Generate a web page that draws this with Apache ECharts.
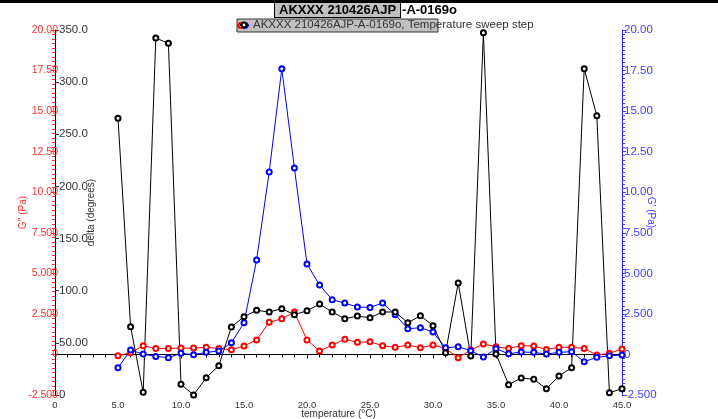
<!DOCTYPE html>
<html>
<head>
<meta charset="utf-8">
<script src="https://cdn.jsdelivr.net/npm/echarts@6/dist/echarts.min.js"></script>
<style>
  html, body { margin: 0; padding: 0; background: #fff; }
  #chart { width: 718px; height: 419px; }
</style>
</head>
<body>
<div id="chart"></div>
<script>
// temperature steps (°C)
const temperature = [
    5, 6, 7, 8, 9, 10, 11, 12, 13, 14, 15, 16, 17, 18, 19, 20, 21, 22, 23, 24, 25,
    26, 27, 28, 29, 30, 31, 32, 33, 34, 35, 36, 37, 38, 39, 40, 41, 42, 43, 44, 45
];
// G'' (Pa), left axis
const lossModulus = [
    -0.08, 0.10, 0.54, 0.37, 0.37, 0.39, 0.39, 0.44, 0.37, 0.29, 0.52, 0.89, 1.98, 2.20, 2.61, 0.89, 0.21,
    0.58, 0.93, 0.75, 0.78, 0.54, 0.44, 0.58, 0.41, 0.58, 0.37, -0.20, 0.27, 0.64, 0.48, 0.37, 0.54,
    0.52, 0.31, 0.44, 0.44, 0.37, -0.04, 0.07, 0.33
];
// G' (Pa), right axis
const storageModulus = [
    -0.82, 0.27, 0.02, -0.12, -0.20, 0.07, -0.02, 0.13, 0.21, 0.72, 1.95, 5.82, 11.24, 17.61, 11.49, 5.57, 4.28,
    3.37, 3.17, 2.92, 2.90, 3.17, 2.45, 1.58, 1.65, 1.38, 0.41, 0.48, 0.23, -0.16, 0.35, 0.04, 0.15,
    0.13, 0.02, 0.13, 0.17, -0.45, -0.18, -0.08, -0.04
];
// delta (degrees), inner left axis
const delta = [
    265.3, 65.5, 2.6, 342.3, 337.2, 10.2, 0.0, 16.6, 28.1, 65.2, 75.1, 81.2, 79.6, 82.8, 77.0, 80.8, 87.2,
    79.6, 73.2, 75.7, 74.1, 79.6, 79.6, 69.3, 76.0, 66.5, 40.6, 107.4, 37.4, 347.4, 39.3, 9.9, 16.3,
    15.0, 6.0, 18.2, 26.2, 312.9, 267.8, 2.2, 6.0
];

const sampleName = 'AKXXX 210426AJP-A-0169o, Temperature sweep step';
const font = 'Liberation Sans';

function pairs(ys) {
    return temperature.map(function (t, i) { return [t, ys[i]]; });
}
function fourDigits(v) {
    return v === 0 ? '0' : Number(v).toPrecision(4);
}

function lineSeries(name, color, yIndex, values) {
    return {
        name: name,
        type: 'line',
        yAxisIndex: yIndex,
        data: pairs(values),
        symbol: 'emptyCircle',
        symbolSize: 5,
        color: color,
        lineStyle: { color: color, width: 1 },
        itemStyle: { color: color, borderColor: color, borderWidth: 0.9 },
        animation: false
    };
}

function legendFor(name, left, top, withText) {
    return {
        left: left,
        top: top,
        data: [name],
        itemWidth: 8,
        itemHeight: 6,
        padding: 0,
        selectedMode: false,
        z: 10,
        formatter: function () { return withText ? sampleName : ''; },
        textStyle: { fontFamily: font, fontSize: 11.5, color: '#333' }
    };
}

const option = {
    backgroundColor: '#fff',
    textStyle: { fontFamily: font },
    graphic: [
        { type: 'rect', shape: { x: 0, y: 0, width: 718, height: 3 }, style: { fill: '#000' } },
        { type: 'rect', z: -1, shape: { x: 237, y: 19, width: 201, height: 13 },
          style: { fill: '#c0c0c0', stroke: '#333', lineWidth: 1 } }
    ],
    title: {
        left: 275,
        top: 3,
        padding: 0,
        text: '{a|AKXXX 210426AJP}{b|-A-0169o}',
        textStyle: {
            rich: {
                a: { fontFamily: font, fontSize: 13, fontWeight: 'bold', color: '#000',
                     backgroundColor: '#c0c0c0', borderColor: '#000', borderWidth: 1, padding: [1, 4, 0, 4] },
                b: { fontFamily: font, fontSize: 13, fontWeight: 'bold', color: '#000',
                     padding: [1, 3, 0, 2] }
            }
        }
    },
    legend: [
        legendFor("G''", 236, 22, false),
        legendFor("G'", 240, 22, false),
        legendFor('delta', 239, 19, true)
    ],
    grid: { left: 55, right: 96, top: 30, bottom: 24, containLabel: false, outerBoundsMode: 'none' },
    xAxis: {
        type: 'value',
        min: 0,
        max: 45,
        interval: 5,
        name: 'temperature (°C)',
        nameLocation: 'middle',
        nameGap: 14,
        nameMoveOverlap: false,
        nameTextStyle: { fontFamily: font, fontSize: 10, color: '#333' },
        axisLine: { show: true, lineStyle: { color: '#000', width: 1 } },
        axisTick: { show: true, length: 4, lineStyle: { color: '#000' } },
        minorTick: { show: true, splitNumber: 5, length: 3, lineStyle: { color: '#000' } },
        splitLine: { show: false },
        axisLabel: {
            fontFamily: font, fontSize: 9.5, color: '#333', margin: 5,
            showMinLabel: true, showMaxLabel: true,
            formatter: function (v) { return v === 0 ? '0' : v.toFixed(1); }
        }
    },
    yAxis: [
        {
            type: 'value',
            position: 'left',
            min: -2.5,
            max: 20,
            interval: 2.5,
            name: "G'' (Pa)",
            nameLocation: 'middle',
            nameRotate: 90,
            nameGap: 27,
            nameMoveOverlap: false,
            nameTextStyle: { fontFamily: font, fontSize: 10, color: '#ff3030' },
            axisLine: { show: true, lineStyle: { color: '#000', width: 1 } },
            axisTick: { show: true, length: 4, lineStyle: { color: '#ff3030' } },
            minorTick: { show: true, splitNumber: 9, length: 3, lineStyle: { color: '#ff3030' } },
            splitLine: { show: false },
            axisLabel: {
                fontFamily: font, fontSize: 10.5, color: '#ff3030', margin: -3,
                showMinLabel: true, showMaxLabel: true,
                formatter: fourDigits
            }
        },
        {
            type: 'value',
            position: 'left',
            offset: 0,
            min: 0,
            max: 350,
            interval: 50,
            name: 'delta (degrees)',
            nameLocation: 'middle',
            nameRotate: 90,
            nameGap: -41,
            nameMoveOverlap: false,
            nameTextStyle: { fontFamily: font, fontSize: 10, color: '#333' },
            axisLine: { show: false },
            axisTick: { show: true, inside: true, length: 4, lineStyle: { color: '#333' } },
            splitLine: { show: false },
            axisLabel: {
                inside: true, fontFamily: font, fontSize: 11.5, color: '#333', margin: 4,
                showMinLabel: true, showMaxLabel: true,
                formatter: fourDigits
            }
        },
        {
            type: 'value',
            position: 'right',
            min: -2.5,
            max: 20,
            interval: 2.5,
            name: "G' (Pa)",
            nameLocation: 'middle',
            nameRotate: -90,
            nameGap: 24,
            nameMoveOverlap: false,
            nameTextStyle: { fontFamily: font, fontSize: 10, color: '#4040ff' },
            axisLine: { show: true, lineStyle: { color: '#2020ff', width: 1 } },
            axisTick: { show: true, length: 4, lineStyle: { color: '#4040ff' } },
            minorTick: { show: true, splitNumber: 10, length: 3, lineStyle: { color: '#4040ff' } },
            splitLine: { show: false },
            axisLabel: {
                fontFamily: font, fontSize: 11.5, color: '#4040ff', margin: 2,
                showMinLabel: true, showMaxLabel: true,
                formatter: fourDigits
            }
        }
    ],
    series: [
        lineSeries("G''", '#ff0000', 0, lossModulus),
        lineSeries("G'", '#0000ff', 2, storageModulus),
        lineSeries('delta', '#000000', 1, delta)
    ]
};

const chart = echarts.init(document.getElementById('chart'));
chart.setOption(option);
</script>
</body>
</html>
